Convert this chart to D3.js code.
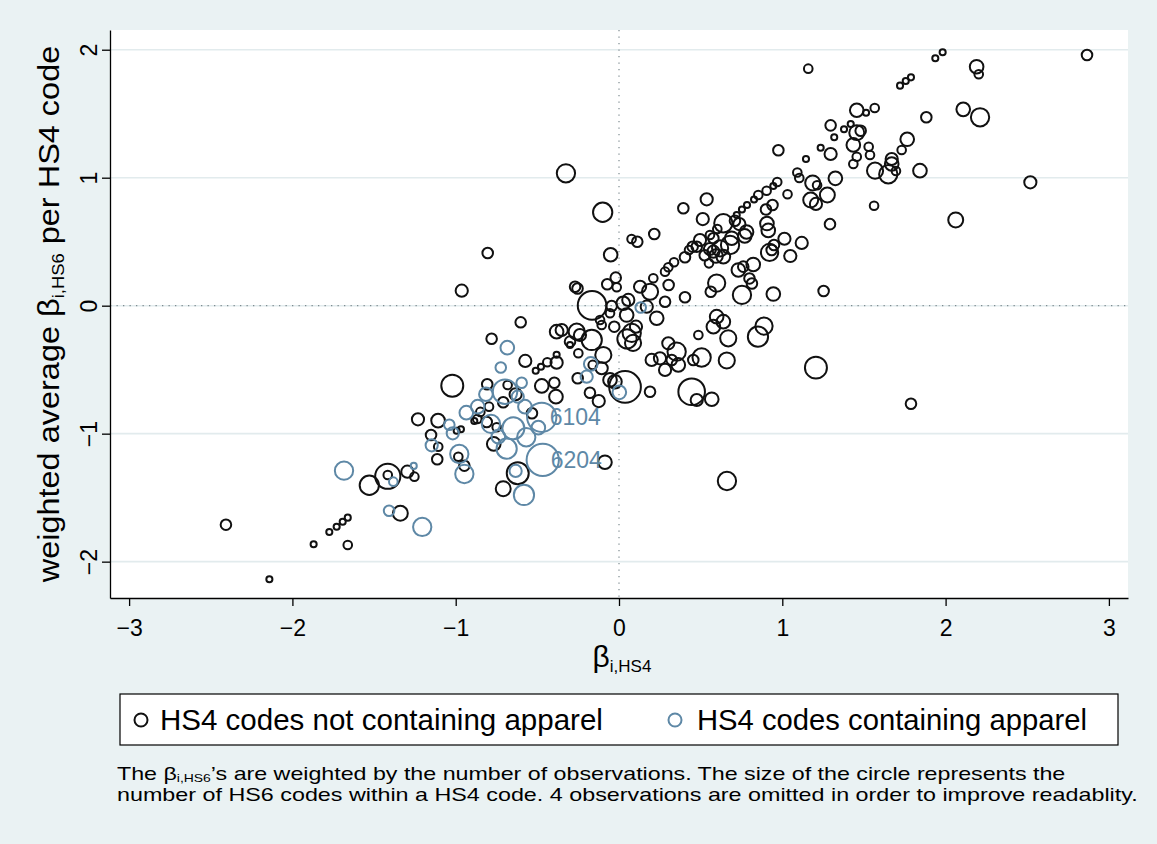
<!DOCTYPE html>
<html><head><meta charset="utf-8">
<script src="https://cdn.jsdelivr.net/npm/d3@7/dist/d3.min.js"></script>
<style>
html,body{margin:0;padding:0;background:#eaf2f3;}
svg{display:block;}
text{font-family:"Liberation Sans", Arial, Helvetica, sans-serif;}
</style></head><body>
<svg id="chart" width="1157" height="844"></svg>
<script>
// ---------- DATA ----------
const xTicks = [-3, -2, -1, 0, 1, 2, 3];
const yTicks = [-2, -1, 0, 1, 2];

// HS4 codes not containing apparel: beta_i,HS4 (x), weighted avg beta_i,HS6 (y), number of HS6 codes (n)
const nonApparelX = [
-2.407,-2.141,-1.870,-1.774,-1.729,-1.692,-1.661,-1.661,-1.529,-1.416,
-1.416,-1.296,-1.253,-1.339,-1.231,-1.108,-1.151,-1.113,-1.107,-0.994,
-0.968,-0.984,-0.947,-1.021,-0.963,-0.804,-0.574,-0.510,-0.478,-0.439,
-0.382,-0.382,-0.249,-0.096,-0.253,-0.055,-0.178,-0.124,-0.807,-0.473,
-0.396,-0.386,-0.682,-0.633,-0.709,-0.849,-0.796,-0.533,-0.868,-0.886,
-0.810,-0.749,-0.767,-0.620,-0.709,-0.086,-0.325,-0.100,-0.051,0.077,
0.112,-0.020,-0.072,-0.014,-0.269,-0.254,-0.165,-0.045,0.026,-0.055,
-0.029,-0.602,-0.780,-0.382,-0.351,-0.259,-0.239,-0.167,-0.300,-0.116,
-0.106,0.049,-0.300,0.129,0.190,0.404,0.562,0.598,0.753,0.799,
0.814,0.057,0.047,0.170,0.231,0.282,0.104,0.086,0.078,0.598,
0.639,0.578,0.669,0.486,0.851,0.888,0.302,0.353,0.251,0.200,
0.323,0.363,0.282,0.455,0.506,0.660,0.445,0.476,0.568,0.190,
0.037,-0.025,-0.106,-0.161,1.206,1.788,0.661,0.945,1.253,0.976,
1.145,1.296,1.092,1.104,1.186,1.213,1.325,1.276,1.174,1.206,
1.032,1.292,0.969,0.945,0.904,0.853,0.827,0.784,0.753,0.721,
0.710,0.940,0.900,0.537,0.394,0.513,0.639,0.737,0.781,0.770,
0.906,0.914,1.013,1.119,0.949,0.922,0.935,1.049,0.602,0.557,
0.496,0.578,0.690,0.680,0.619,0.557,0.578,0.476,0.451,0.429,
0.525,0.594,0.639,0.404,0.551,0.337,0.302,0.282,0.210,0.304,
0.216,0.731,0.761,0.822,1.159,1.937,1.982,2.190,2.203,2.866,
1.721,1.756,1.788,1.456,1.513,1.566,1.882,2.108,2.211,1.296,
1.419,1.378,1.318,1.456,1.480,1.435,1.529,1.537,1.456,1.435,
1.765,1.731,1.670,1.670,1.649,1.696,1.568,1.843,2.519,2.062,
1.562,1.235];
const nonApparelY = [
-1.711,-2.138,-1.864,-1.768,-1.727,-1.688,-1.656,-1.870,-1.403,-1.333,
-1.323,-1.297,-1.336,-1.622,-0.888,-0.898,-1.010,-1.200,-1.102,-0.977,
-0.966,-1.180,-1.250,-0.625,0.117,0.412,-0.432,-0.508,-0.477,-0.442,
-0.445,-0.383,-0.372,-0.385,-0.567,-0.580,-0.680,-0.745,-0.614,-0.627,
-0.602,-0.711,-0.620,-0.692,-0.755,-0.830,-0.789,-0.841,-0.885,-0.901,
-0.909,-0.950,-1.080,-1.309,-1.430,-1.223,1.034,0.730,0.398,0.521,
0.500,0.219,0.167,0.144,0.148,0.134,0.002,-0.002,0.019,-0.059,
-0.164,-0.130,-0.258,-0.203,-0.190,-0.203,-0.229,-0.268,-0.281,-0.112,
-0.151,-0.260,-0.307,0.148,0.109,0.066,0.109,0.177,0.084,0.213,
0.173,0.045,-0.073,-0.008,-0.098,0.031,-0.164,-0.291,-0.213,-0.086,
-0.125,-0.164,-0.255,-0.229,-0.242,-0.159,-0.294,-0.359,-0.411,-0.424,
-0.424,-0.463,-0.502,-0.424,-0.405,-0.428,-0.672,-0.737,-0.731,-0.672,
-0.635,-0.594,-0.489,-0.463,-0.484,-0.766,-1.370,0.091,0.115,1.214,
1.146,1.185,1.041,0.998,0.959,0.941,0.995,0.865,0.826,0.795,
0.871,0.637,0.966,0.935,0.898,0.865,0.830,0.787,0.752,0.709,
0.664,0.787,0.752,0.831,0.761,0.677,0.644,0.638,0.576,0.545,
0.642,0.588,0.523,0.490,0.474,0.416,0.435,0.388,0.599,0.552,
0.513,0.527,0.527,0.474,0.448,0.443,0.422,0.461,0.461,0.435,
0.394,0.388,0.383,0.378,0.331,0.339,0.300,0.266,0.214,0.162,
0.560,0.279,0.305,0.322,1.852,1.933,1.980,1.867,1.808,1.959,
1.719,1.755,1.784,1.527,1.508,1.545,1.472,1.534,1.472,1.409,
1.420,1.378,1.316,1.352,1.367,1.256,1.242,1.177,1.164,1.107,
1.300,1.216,1.146,1.107,1.027,1.052,1.055,1.055,0.964,0.670,
0.781,1.234];
const nonApparelN = [
3,1,1,1,1,1,1,2,10,17,
2,4,2,6,4,5,3,3,2,1,
1,2,3,13,4,3,4,1,1,2,
4,1,2,7,3,5,3,4,3,5,
3,5,2,4,3,2,2,3,2,1,
3,2,5,13,6,5,9,10,5,2,
3,3,3,2,3,3,22,3,5,2,
3,3,3,5,4,7,4,11,3,2,
2,10,1,4,7,3,3,8,9,3,
3,4,5,4,5,3,4,7,9,5,
5,5,7,2,11,8,4,9,4,4,
3,5,4,3,9,7,19,4,5,3,
27,5,4,2,13,3,9,5,3,3,
1,4,2,2,6,2,5,6,6,4,
2,3,2,1,2,2,1,1,1,1,
3,3,3,4,3,4,9,4,5,5,
5,5,4,4,3,8,3,4,2,2,
4,3,5,9,7,4,4,3,3,2,
3,5,5,3,2,2,2,2,2,3,
3,5,3,5,2,1,1,5,2,3,
1,1,1,5,1,2,3,5,9,3,
1,1,1,6,3,5,2,2,2,2,
5,2,4,5,9,2,7,5,4,6,
2,1];

// HS4 codes containing apparel
const apparelX = [
-1.684,-1.382,-1.257,-1.408,-1.205,-1.147,-1.039,-1.018,-0.978,-0.947,
-0.935,-0.865,-0.815,-0.784,-0.739,-0.688,-0.698,-0.724,-0.684,-0.596,
-0.620,-0.576,-0.473,-0.647,-0.494,-0.568,-0.467,-0.633,-0.582,-0.173,
-0.198,0.002,0.133];
const apparelY = [
-1.289,-1.375,-1.252,-1.602,-1.729,-1.091,-0.930,-0.997,-1.159,-1.315,
-0.836,-0.789,-0.692,-0.924,-1.023,-1.117,-0.672,-0.483,-0.328,-0.602,
-0.711,-0.789,-0.872,-0.958,-0.953,-1.028,-1.205,-1.291,-1.479,-0.455,
-0.555,-0.677,-0.014];
const apparelN = [
9,2,1,3,9,4,3,4,9,9,
5,5,5,9,5,11,16,3,5,3,
4,5,23,13,5,9,28,4,11,5,
4,5,3];
const apparelCode = [
"","","","","","","","","","",
"","","","","","","","","","",
"","","6104","","","","6204","","","",
"","",""];

const legendLabels = ["HS4 codes not containing apparel", "HS4 codes containing apparel"];

// ---------- LAYOUT ----------
const W = 1157, H = 844;
const plot = {left:110, right:1128, top:30, bottom:598};
const BLACK = "#111", BLUE = "#5e88a6";

const svg = d3.select("#chart");
svg.append("rect").attr("width", W).attr("height", H).attr("fill", "#eaf2f3");
svg.append("rect").attr("x", plot.left).attr("y", plot.top)
  .attr("width", plot.right - plot.left).attr("height", plot.bottom - plot.top)
  .attr("fill", "#fff");

const x = d3.scaleLinear().domain([-3.117, 3.117]).range([plot.left, plot.right]);
const y = d3.scaleLinear().domain([-2.284, 2.154]).range([plot.bottom, plot.top]);
const maxN = d3.max(nonApparelN.concat(apparelN));
const r = d3.scaleSqrt().domain([0, maxN]).range([0, 3.05 * Math.sqrt(maxN)]);

// grid lines
svg.append("g").selectAll("line").data(yTicks).join("line")
  .attr("x1", plot.left).attr("x2", plot.right)
  .attr("y1", d => y(d)).attr("y2", d => y(d))
  .attr("stroke", "#e2ebed").attr("stroke-width", 1.6);

// dotted reference lines at 0
svg.append("line").attr("x1", plot.left).attr("x2", plot.right)
  .attr("y1", y(0)).attr("y2", y(0))
  .attr("stroke", "#7d8b90").attr("stroke-width", 1.2).attr("stroke-dasharray", "1.3 5.2");
svg.append("line").attr("x1", x(0)).attr("x2", x(0))
  .attr("y1", plot.top).attr("y2", plot.bottom)
  .attr("stroke", "#7d8b90").attr("stroke-width", 1.2).attr("stroke-dasharray", "1.3 5.2");

// markers
const nonApparel = nonApparelX.map((v, i) => ({x: v, y: nonApparelY[i], n: nonApparelN[i]}));
const apparel = apparelX.map((v, i) => ({x: v, y: apparelY[i], n: apparelN[i], code: apparelCode[i]}));

svg.append("g").selectAll("circle").data(nonApparel).join("circle")
  .attr("cx", d => x(d.x)).attr("cy", d => y(d.y)).attr("r", d => r(d.n))
  .attr("fill", "none").attr("stroke", BLACK).attr("stroke-width", 2);

svg.append("g").selectAll("circle").data(apparel).join("circle")
  .attr("cx", d => x(d.x)).attr("cy", d => y(d.y)).attr("r", d => r(d.n))
  .attr("fill", "none").attr("stroke", BLUE).attr("stroke-width", 2);

svg.append("g").selectAll("text").data(apparel.filter(d => d.code)).join("text")
  .attr("x", d => x(d.x) + 8).attr("y", d => y(d.y) + 8)
  .attr("font-size", 23).attr("fill", BLUE).text(d => d.code);

// axes
const xAxis = svg.append("g").attr("transform", `translate(0,${plot.bottom})`)
  .call(d3.axisBottom(x).tickValues(xTicks).tickSize(8).tickSizeOuter(0).tickPadding(14).tickFormat(d3.format("d")));
const yAxis = svg.append("g").attr("transform", `translate(${plot.left},0)`)
  .call(d3.axisLeft(y).tickValues(yTicks).tickSize(8).tickSizeOuter(0).tickFormat(d3.format("d")));
[xAxis, yAxis].forEach(a => {
  a.attr("font-family", null).attr("font-size", null);
  a.select(".domain").attr("stroke", "#000").attr("stroke-width", 1.3);
  a.selectAll(".tick line").attr("stroke", "#000").attr("stroke-width", 1.3);
  a.selectAll(".tick text").attr("fill", "#000").attr("font-size", 23);
});
yAxis.selectAll(".tick text")
  .attr("transform", "rotate(-90)").attr("x", 0).attr("y", -13).attr("dy", 0)
  .attr("text-anchor", "middle");

function fitWidth(sel, target, ax, ay) {
  const w = sel.node().getBBox().width;
  const k = target / w;
  sel.attr("transform", `translate(${ax},${ay}) scale(${k},1) translate(${-ax},${-ay})`);
}

// x title
const xt = svg.append("text").attr("x", 622).attr("y", 667).attr("text-anchor", "middle")
  .attr("font-size", 30).attr("fill", "#000");
xt.append("tspan").text("β");
xt.append("tspan").attr("font-size", 17).attr("dy", 5).text("i,HS4");

// y title
const ytg = svg.append("g").attr("transform", "translate(59,314) rotate(-90)");
const yt = ytg.append("text").attr("x", 0).attr("y", 0).attr("text-anchor", "middle")
  .attr("font-size", 30).attr("fill", "#000");
yt.append("tspan").text("weighted average β");
yt.append("tspan").attr("font-size", 17).attr("dy", 5).text("i,HS6");
yt.append("tspan").attr("dy", -5).text(" per HS4 code");
fitWidth(yt, 538, 0, 0);

// legend
svg.append("rect").attr("x", 120).attr("y", 694).attr("width", 998).attr("height", 51)
  .attr("fill", "#fff").attr("stroke", "#000").attr("stroke-width", 1.2);
const legendColors = [BLACK, BLUE];
const legendMarkX = [141, 675];
const legendTextX = [160, 697];
const legendTextW = [443, 390];
legendLabels.forEach((lab, i) => {
  svg.append("circle").attr("cx", legendMarkX[i]).attr("cy", 720).attr("r", 6.5)
    .attr("fill", "none").attr("stroke", legendColors[i]).attr("stroke-width", 2);
  const t = svg.append("text").attr("x", legendTextX[i]).attr("y", 730)
    .attr("font-size", 29).attr("fill", "#000").text(lab);
  fitWidth(t, legendTextW[i], legendTextX[i], 730);
});

// note
const n1 = svg.append("text").attr("x", 117).attr("y", 780).attr("font-size", 17.5).attr("fill", "#000");
n1.append("tspan").text("The β");
n1.append("tspan").attr("font-size", 10.5).attr("dy", 2).text("i,HS6");
n1.append("tspan").attr("dy", -2).text("’s are weighted by the number of observations. The size of the circle represents the");
fitWidth(n1, 949, 117, 780);
const n2 = svg.append("text").attr("x", 117).attr("y", 801).attr("font-size", 17.5).attr("fill", "#000")
  .text("number of HS6 codes within a HS4 code. 4 observations are omitted in order to improve readablity.");
fitWidth(n2, 1021, 117, 801);
</script>
</body></html>
